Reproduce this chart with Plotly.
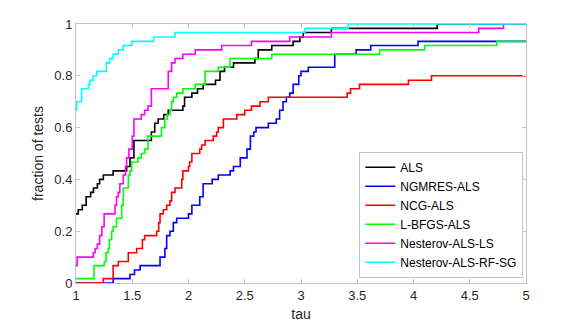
import plotly.graph_objects as go

# performance profile data: tau breakpoints and fraction of tests solved (step curves)
als_tau = [1.0, 1.02, 1.056, 1.09, 1.13, 1.155, 1.19, 1.21, 1.243, 1.33, 1.45, 1.48, 1.515, 1.67, 1.70,
           1.73, 1.78, 1.82, 1.95, 1.965, 2.03, 2.08, 2.13, 2.24, 2.28, 2.32, 2.40, 2.59, 2.62, 2.74,
           2.93, 2.99, 3.02, 3.27, 4.21, 5.0]
als_frac = [0.267, 0.283, 0.3, 0.333, 0.35, 0.367, 0.383, 0.4, 0.417, 0.433, 0.45, 0.483, 0.55, 0.583, 0.617,
            0.633, 0.65, 0.667, 0.683, 0.717, 0.733, 0.75, 0.767, 0.783, 0.817, 0.833, 0.85, 0.867, 0.9, 0.917,
            0.933, 0.95, 0.967, 0.983, 1.0, 1.0]

ngmres_tau = [1.0, 1.33, 1.48, 1.52, 1.57, 1.747, 1.79, 1.806, 1.835, 1.865, 1.895, 2.0, 2.03, 2.10, 2.13,
              2.21, 2.265, 2.37, 2.40, 2.46, 2.52, 2.55, 2.58, 2.60, 2.71, 2.78, 2.81, 2.84, 2.87, 2.90,
              2.93, 2.98, 3.0, 3.065, 3.30, 3.49, 3.62, 4.04, 5.0]
ngmres_frac = [0.0, 0.017, 0.033, 0.05, 0.067, 0.1, 0.133, 0.183, 0.2, 0.233, 0.25, 0.267, 0.3, 0.333, 0.383,
               0.4, 0.417, 0.433, 0.45, 0.483, 0.517, 0.567, 0.583, 0.6, 0.617, 0.633, 0.667, 0.7, 0.717, 0.733,
               0.767, 0.8, 0.817, 0.833, 0.883, 0.9, 0.917, 0.933, 0.933]

ncg_tau = [1.0, 1.243, 1.33, 1.376, 1.465, 1.54, 1.59, 1.61, 1.717, 1.735, 1.747, 1.776, 1.806, 1.835, 1.85,
           1.88, 1.94, 1.95, 2.0, 2.01, 2.03, 2.10, 2.117, 2.147, 2.22, 2.25, 2.265, 2.31, 2.43, 2.50,
           2.56, 2.635, 2.71, 3.41, 3.44, 3.52, 3.955, 4.16, 5.0]
ncg_frac = [0.0, 0.017, 0.067, 0.083, 0.117, 0.133, 0.167, 0.183, 0.2, 0.233, 0.267, 0.283, 0.3, 0.317, 0.35,
            0.367, 0.4, 0.433, 0.45, 0.467, 0.5, 0.517, 0.533, 0.55, 0.567, 0.583, 0.6, 0.633, 0.65, 0.667,
            0.683, 0.7, 0.717, 0.733, 0.75, 0.767, 0.783, 0.8, 0.8]

lbfgs_tau = [1.0, 1.16, 1.25, 1.267, 1.287, 1.296, 1.317, 1.33, 1.36, 1.406, 1.42, 1.465, 1.48, 1.495, 1.55,
             1.58, 1.61, 1.64, 1.76, 1.79, 1.81, 1.835, 1.85, 1.865, 1.895, 1.95, 2.06, 2.147, 2.265, 2.37,
             2.74, 3.70, 4.10, 4.74, 5.0]
lbfgs_frac = [0.017, 0.067, 0.083, 0.117, 0.133, 0.167, 0.2, 0.217, 0.25, 0.3, 0.367, 0.417, 0.433, 0.467, 0.483,
              0.5, 0.517, 0.567, 0.6, 0.633, 0.65, 0.667, 0.7, 0.717, 0.733, 0.75, 0.767, 0.817, 0.833, 0.867,
              0.883, 0.9, 0.917, 0.933, 0.933]

nest_ls_tau = [1.0, 1.01, 1.154, 1.17, 1.19, 1.21, 1.23, 1.25, 1.347, 1.36, 1.376, 1.39, 1.42, 1.44, 1.45,
               1.47, 1.5, 1.515, 1.58, 1.61, 1.64, 1.67, 1.82, 1.85, 1.88, 1.95, 2.06, 2.295, 2.56, 2.90,
               3.27, 4.58, 4.80, 5.0]
nest_ls_frac = [0.067, 0.1, 0.117, 0.133, 0.15, 0.183, 0.217, 0.267, 0.3, 0.333, 0.35, 0.383, 0.417, 0.45, 0.483,
                0.517, 0.567, 0.633, 0.65, 0.667, 0.683, 0.75, 0.817, 0.85, 0.867, 0.883, 0.9, 0.917, 0.933, 0.95,
                0.967, 0.983, 1.0, 1.0]

nest_rf_tau = [1.0, 1.006, 1.05, 1.11, 1.124, 1.154, 1.184, 1.27, 1.30, 1.33, 1.376, 1.42, 1.495, 1.69, 1.88,
               3.035, 3.42, 5.0]
nest_rf_frac = [0.667, 0.7, 0.75, 0.767, 0.783, 0.8, 0.817, 0.85, 0.867, 0.883, 0.9, 0.917, 0.933, 0.95, 0.967,
                0.983, 1.0, 1.0]

x_ticks = [1, 1.5, 2, 2.5, 3, 3.5, 4, 4.5, 5]
x_ticktext = ['1', '1.5', '2', '2.5', '3', '3.5', '4', '4.5', '5']
y_ticks = [0, 0.2, 0.4, 0.6, 0.8, 1]
y_ticktext = ['0', '0.2', '0.4', '0.6', '0.8', '1']

series = [
    ('ALS', als_tau, als_frac, '#000000'),
    ('NGMRES-ALS', ngmres_tau, ngmres_frac, '#0000ff'),
    ('NCG-ALS', ncg_tau, ncg_frac, '#ff0000'),
    ('L-BFGS-ALS', lbfgs_tau, lbfgs_frac, '#00ff00'),
    ('Nesterov-ALS-LS', nest_ls_tau, nest_ls_frac, '#ff00ff'),
    ('Nesterov-ALS-RF-SG', nest_rf_tau, nest_rf_frac, '#00ffff'),
]

fig = go.Figure()
for name, t, f, c in series:
    fig.add_trace(go.Scatter(x=t, y=f, name=name, mode='lines',
                             line=dict(color=c, width=1.6, shape='hv')))

axis_style = dict(showline=True, linecolor='#c4c4c4', linewidth=1, mirror='ticks',
                  ticks='inside', ticklen=4, tickcolor='#c4c4c4',
                  showgrid=False, zeroline=False, automargin=False,
                  tickfont=dict(size=13, color='#262626'))

# page body adds an 8px margin, so the figure is a bit smaller than the window
fig.update_layout(
    width=565, height=314,
    margin=dict(l=68, r=47, t=16, b=39),
    plot_bgcolor='white', paper_bgcolor='white',
    font=dict(family='Liberation Sans, Arial, sans-serif', size=13, color='#262626'),
    xaxis=dict(range=[1, 5], tickvals=x_ticks, ticktext=x_ticktext,
               title=dict(text='tau', font=dict(size=14), standoff=8), **axis_style),
    yaxis=dict(range=[0, 1], tickvals=y_ticks, ticktext=y_ticktext,
               title=dict(text='fraction of tests', font=dict(size=14), standoff=7), **axis_style),
    legend=dict(x=0.994, xanchor='right', y=0.02, yanchor='bottom',
                bgcolor='white', bordercolor='#c4c4c4', borderwidth=1,
                font=dict(size=12, color='#000000'), itemwidth=30, tracegroupgap=0),
    showlegend=True,
)

fig.write_html("out.html")
